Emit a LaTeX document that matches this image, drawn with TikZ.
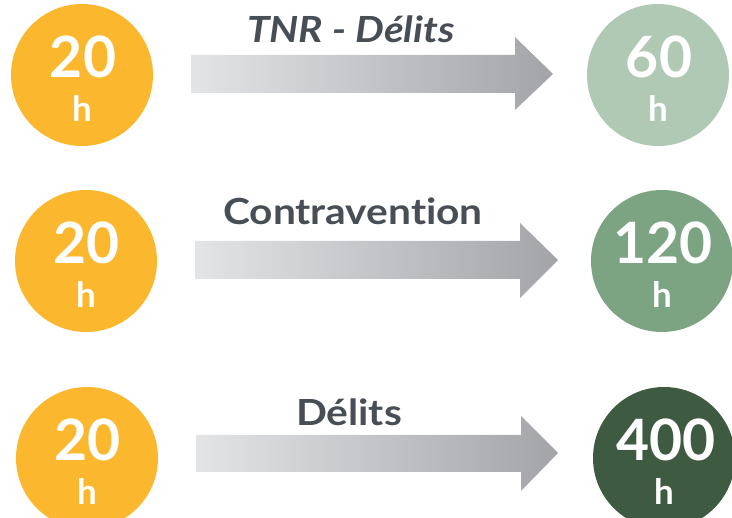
\documentclass[tikz,border=0pt]{standalone}
\usepackage{fontspec}
\setmainfont{Lato}[Ligatures=NoCommon]
\newfontfamily\libelle{Lato}[Ligatures=NoCommon, FakeStretch=1.13]
\definecolor{jaune}{HTML}{FBB72D}
\definecolor{vertclair}{HTML}{B0C9B4}
\definecolor{vertmoyen}{HTML}{7CA382}
\definecolor{vertfonce}{HTML}{3E5A40}
\definecolor{texte}{HTML}{484E56}
\definecolor{grisclair}{HTML}{E3E4E6}
\definecolor{grisfonce}{HTML}{A2A4A8}
\begin{document}
\begin{tikzpicture}[x=1pt,y=-1pt]
      \useasboundingbox (0,0) rectangle (732,518);
      \clip (0,0) rectangle (732,518);

      \begin{scope}[every node/.style={circle, inner sep=0pt, minimum size=142pt}]
        \node[fill=jaune]     (a1) at (82,75)  {};
        \node[fill=jaune]     (a2) at (86,261) {};
        \node[fill=jaune]     (a3) at (87,458) {};
        \node[fill=vertclair] (b1) at (658,75)  {};
        \node[fill=vertmoyen] (b2) at (662,261) {};
        \node[fill=vertfonce] (b3) at (664,458) {};
      \end{scope}

      \begin{scope}[every node/.style={anchor=base, inner sep=0pt, text=white, font=\fontsize{57}{57}\selectfont\bfseries}]
        \node (na1) at (83,78)  {20};
        \node (na2) at (87,264) {20};
        \node (na3) at (88,461) {20};
        \node (nb1) at (659,78)  {60};
        \node (nb2) at (663,264) {120};
        \node (nb3) at (666,461) {400};
      \end{scope}

      \begin{scope}[every node/.style={anchor=base, inner sep=0pt, text=white, font=\fontsize{35}{35}\selectfont\bfseries}]
        \node (ha1) at (82,122) {h};
        \node (ha2) at (86,308) {h};
        \node (ha3) at (87,505) {h};
        \node (hb1) at (658,122) {h};
        \node (hb2) at (662,308) {h};
        \node (hb3) at (664,505) {h};
      \end{scope}

      \begin{scope}[every path/.style={left color=grisclair, right color=grisfonce}]
        \shade (191,55) -- (515,55) -- (515,37) -- (553,74) -- (515,110) -- (515,93) -- (191,93) -- cycle;
        \shade (195,241) -- (520,241) -- (520,223) -- (558,260) -- (520,298) -- (520,279) -- (195,279) -- cycle;
        \shade (196,435) -- (521,435) -- (521,416) -- (558,453) -- (521,491) -- (521,472) -- (196,472) -- cycle;
      \end{scope}

      \begin{scope}[every node/.style={anchor=base, inner sep=0pt, text=texte, font=\libelle\fontsize{36}{36}\selectfont\bfseries}]
        \node (t1) at (351,43)  {\itshape TNR - Délits};
        \node (t2) at (353,225) {Contravention};
        \node (t3) at (349,426) {Délits};
      \end{scope}

    \end{tikzpicture}
\end{document}
